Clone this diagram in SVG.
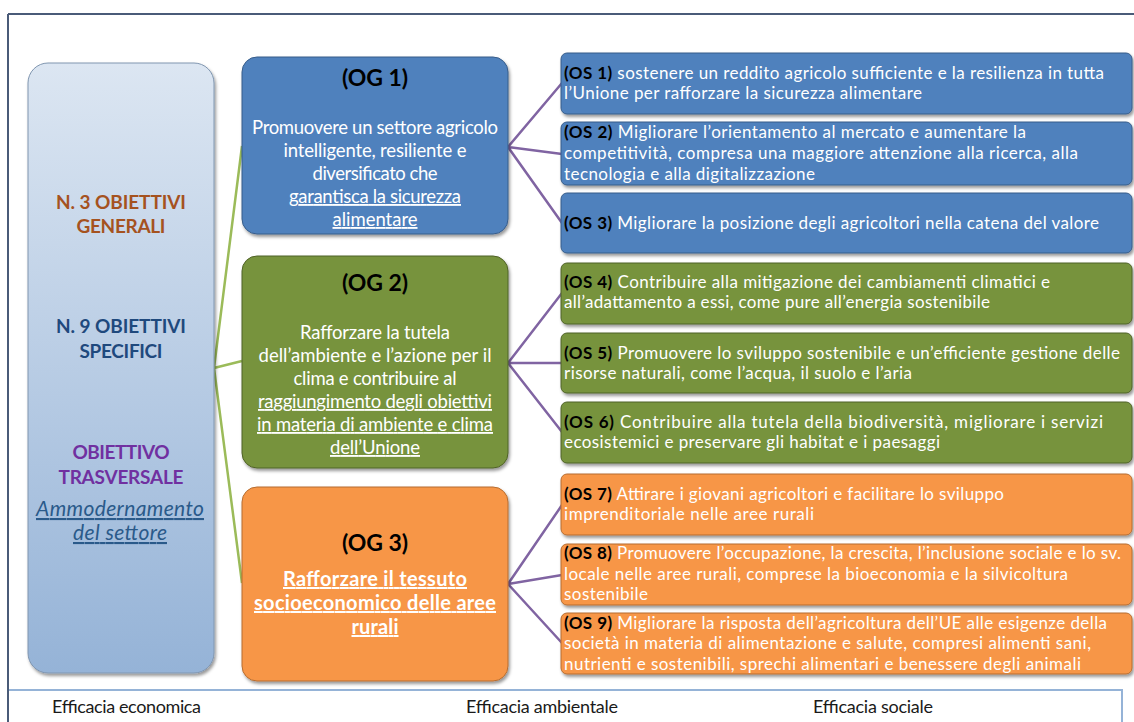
<svg xmlns="http://www.w3.org/2000/svg" width="1134" height="722" viewBox="0 0 1134 722">
<style>
text{font-family:Lato,"Liberation Sans",sans-serif}
.os{font-size:17px;fill:#ffffff}
.lab{fill:#000000;font-weight:bold}
.ogt{font-size:23px;font-weight:bold;fill:#000000}
.ogb{font-size:18.5px;fill:#ffffff}
.u{text-decoration:underline}
.ogb3{font-size:20px;font-weight:bold;fill:#ffffff;text-decoration:underline}
.left{font-size:19px;font-weight:bold}
.foot{font-size:18px;fill:#1a1a1a}
.blue{fill:#4f81bd;stroke:#385d8a;stroke-width:1}
.green{fill:#77933c;stroke:#4f6228;stroke-width:1}
.orange{fill:#f79646;stroke:#b66d31;stroke-width:1}
.gl{stroke:#9bbb59;stroke-width:2.5;fill:none}
.pl{stroke:#8064a2;stroke-width:2.5;fill:none}
</style>
<defs>
<linearGradient id="lg" x1="0" y1="0" x2="0" y2="1">
<stop offset="0" stop-color="#dce6f2"/>
<stop offset="1" stop-color="#95b3d7"/>
</linearGradient>
<filter id="sh" x="-10%" y="-10%" width="120%" height="130%">
<feDropShadow dx="1.5" dy="2.5" stdDeviation="1.8" flood-color="#000" flood-opacity="0.4"/>
</filter>
</defs>
<rect x="0" y="0" width="1134" height="722" fill="#ffffff"/>
<g id="frame">
<line x1="8" y1="14" x2="1134" y2="14" stroke="#4a5b78" stroke-width="2"/>
<rect x="8" y="690" width="1114" height="40" fill="#ffffff" stroke="#95b3d7" stroke-width="2"/>
<line x1="8" y1="14" x2="8" y2="722" stroke="#4a5b78" stroke-width="2"/>
</g>
<g id="connectors">
<path class="gl" d="M214,368 L242,146 M214,368 L242,361 M214,368 L242,583"/>
<path class="pl" d="M508,147 L562,83 M508,147 L562,154 M508,147 L562,223"/>
<path class="pl" d="M508,363 L562,293 M508,363 L562,363 M508,363 L562,432"/>
<path class="pl" d="M508,584 L562,505 M508,584 L562,575 M508,584 L562,643"/>
</g>
<g id="left-box">
<rect x="28" y="63" width="186" height="610" rx="20" fill="url(#lg)" stroke="#8096b0" stroke-width="1" filter="url(#sh)"/>
<text class="left" x="121" y="209" text-anchor="middle" fill="#a5521f" textLength="130" lengthAdjust="spacing">N. 3 OBIETTIVI</text>
<text class="left" x="121" y="233" text-anchor="middle" fill="#a5521f" textLength="89" lengthAdjust="spacing">GENERALI</text>
<text class="left" x="121" y="333" text-anchor="middle" fill="#1f497d" textLength="130" lengthAdjust="spacing">N. 9 OBIETTIVI</text>
<text class="left" x="121" y="358" text-anchor="middle" fill="#1f497d" textLength="83" lengthAdjust="spacing">SPECIFICI</text>
<text class="left" x="121" y="459" text-anchor="middle" fill="#7030a0" textLength="97" lengthAdjust="spacing">OBIETTIVO</text>
<text class="left" x="121" y="484" text-anchor="middle" fill="#7030a0" textLength="125" lengthAdjust="spacing">TRASVERSALE</text>
<text x="120" y="516" text-anchor="middle" fill="#2a5a8a" font-size="21" font-style="italic" text-decoration="underline" textLength="168" lengthAdjust="spacing">Ammodernamento</text>
<text x="120" y="540" text-anchor="middle" fill="#2a5a8a" font-size="21" font-style="italic" text-decoration="underline" textLength="94" lengthAdjust="spacing">del settore</text>
</g>
<g id="og1">
<rect class="blue" x="242" y="57" width="266" height="177" rx="15" filter="url(#sh)"/>
<text class="ogt" x="375" y="86" text-anchor="middle" textLength="66" lengthAdjust="spacing">(OG 1)</text>
<text class="ogb" x="375" y="134" text-anchor="middle" textLength="246" lengthAdjust="spacing">Promuovere un settore agricolo</text>
<text class="ogb" x="375" y="157" text-anchor="middle" textLength="183" lengthAdjust="spacing">intelligente, resiliente e</text>
<text class="ogb" x="375" y="180" text-anchor="middle" textLength="125" lengthAdjust="spacing">diversificato che</text>
<text class="ogb u" x="375" y="203" text-anchor="middle" textLength="172" lengthAdjust="spacing">garantisca la sicurezza</text>
<text class="ogb u" x="375" y="226" text-anchor="middle" textLength="85" lengthAdjust="spacing">alimentare</text>
</g>
<g id="og2">
<rect class="green" x="242" y="256" width="266" height="212" rx="15" filter="url(#sh)"/>
<text class="ogt" x="375" y="291" text-anchor="middle" textLength="66" lengthAdjust="spacing">(OG 2)</text>
<text class="ogb" x="375" y="339" text-anchor="middle" textLength="150" lengthAdjust="spacing">Rafforzare la tutela</text>
<text class="ogb" x="375" y="362" text-anchor="middle" textLength="233" lengthAdjust="spacing">dell’ambiente e l’azione per il</text>
<text class="ogb" x="375" y="385" text-anchor="middle" textLength="163" lengthAdjust="spacing">clima e contribuire al</text>
<text class="ogb u" x="375" y="408" text-anchor="middle" textLength="234" lengthAdjust="spacing">raggiungimento degli obiettivi</text>
<text class="ogb u" x="375" y="431" text-anchor="middle" textLength="236" lengthAdjust="spacing">in materia di ambiente e clima</text>
<text class="ogb u" x="375" y="454" text-anchor="middle" textLength="90" lengthAdjust="spacing">dell’Unione</text>
</g>
<g id="og3">
<rect class="orange" x="242" y="487" width="266" height="194" rx="15" filter="url(#sh)"/>
<text class="ogt" x="375" y="551" text-anchor="middle" textLength="66" lengthAdjust="spacing">(OG 3)</text>
<text class="ogb3" x="375" y="586" text-anchor="middle" textLength="184" lengthAdjust="spacing">Rafforzare il tessuto</text>
<text class="ogb3" x="375" y="610" text-anchor="middle" textLength="242" lengthAdjust="spacing">socioeconomico delle aree</text>
<text class="ogb3" x="375" y="634" text-anchor="middle" textLength="47" lengthAdjust="spacing">rurali</text>
</g>
<g id="os1">
<rect class="blue" x="561" y="53" width="571" height="61" rx="6" filter="url(#sh)"/>
<text class="os" x="564" y="79" textLength="540" lengthAdjust="spacing"><tspan class="lab">(OS 1)</tspan> sostenere un reddito agricolo sufficiente e la resilienza in tutta</text>
<text class="os" x="564" y="99" textLength="358" lengthAdjust="spacing">l’Unione  per rafforzare la sicurezza alimentare</text>
</g>
<g id="os2">
<rect class="blue" x="561" y="122" width="571" height="63" rx="6" filter="url(#sh)"/>
<text class="os" x="564" y="138" textLength="462" lengthAdjust="spacing"><tspan class="lab">(OS 2)</tspan> Migliorare l’orientamento al mercato e aumentare la</text>
<text class="os" x="564" y="159" textLength="514" lengthAdjust="spacing">competitività, compresa una maggiore attenzione alla ricerca, alla</text>
<text class="os" x="564" y="180" textLength="251" lengthAdjust="spacing">tecnologia e alla digitalizzazione</text>
</g>
<g id="os3">
<rect class="blue" x="561" y="193" width="571" height="60" rx="6" filter="url(#sh)"/>
<text class="os" x="564" y="229" textLength="535" lengthAdjust="spacing"><tspan class="lab">(OS 3)</tspan> Migliorare la posizione degli agricoltori nella catena del valore</text>
</g>
<g id="os4">
<rect class="green" x="561" y="263" width="571" height="61" rx="6" filter="url(#sh)"/>
<text class="os" x="564" y="288" textLength="486" lengthAdjust="spacing"><tspan class="lab">(OS 4)</tspan> Contribuire alla mitigazione dei cambiamenti climatici e</text>
<text class="os" x="564" y="308" textLength="426" lengthAdjust="spacing">all’adattamento a essi, come pure all’energia sostenibile</text>
</g>
<g id="os5">
<rect class="green" x="561" y="333" width="571" height="60" rx="6" filter="url(#sh)"/>
<text class="os" x="564" y="359" textLength="556" lengthAdjust="spacing"><tspan class="lab">(OS 5)</tspan> Promuovere lo sviluppo sostenibile e un’efficiente gestione delle</text>
<text class="os" x="564" y="379" textLength="348" lengthAdjust="spacing">risorse naturali, come l’acqua,  il suolo e l’aria</text>
</g>
<g id="os6">
<rect class="green" x="561" y="402" width="571" height="61" rx="6" filter="url(#sh)"/>
<text class="os" x="564" y="428" textLength="539" lengthAdjust="spacing"><tspan class="lab">(OS 6)</tspan> Contribuire alla tutela della biodiversità, migliorare i servizi</text>
<text class="os" x="564" y="448" textLength="376" lengthAdjust="spacing">ecosistemici e preservare gli habitat e i paesaggi</text>
</g>
<g id="os7">
<rect class="orange" x="561" y="474" width="571" height="61" rx="6" filter="url(#sh)"/>
<text class="os" x="564" y="500" textLength="440" lengthAdjust="spacing"><tspan class="lab">(OS 7)</tspan> Attirare i giovani agricoltori e facilitare lo sviluppo</text>
<text class="os" x="564" y="520" textLength="250" lengthAdjust="spacing">imprenditoriale nelle aree rurali</text>
</g>
<g id="os8">
<rect class="orange" x="561" y="544" width="571" height="61" rx="6" filter="url(#sh)"/>
<text class="os" x="564" y="559" textLength="557" lengthAdjust="spacing"><tspan class="lab">(OS 8)</tspan> Promuovere l’occupazione,  la crescita, l’inclusione sociale e lo sv.</text>
<text class="os" x="564" y="580" textLength="504" lengthAdjust="spacing">locale nelle aree rurali, comprese la bioeconomia  e la silvicoltura</text>
<text class="os" x="564" y="600" textLength="84" lengthAdjust="spacing">sostenibile</text>
</g>
<g id="os9">
<rect class="orange" x="561" y="613" width="571" height="61" rx="6" filter="url(#sh)"/>
<text class="os" x="564" y="629" textLength="543" lengthAdjust="spacing"><tspan class="lab">(OS 9)</tspan> Migliorare la risposta dell’agricoltura  dell’UE alle esigenze della</text>
<text class="os" x="564" y="649" textLength="527" lengthAdjust="spacing">società in materia di alimentazione e salute, compresi alimenti sani,</text>
<text class="os" x="564" y="670" textLength="517" lengthAdjust="spacing">nutrienti e sostenibili, sprechi alimentari e benessere degli animali</text>
</g>
<g id="footer">
<text class="foot" x="52" y="713" textLength="149" lengthAdjust="spacing">Efficacia economica</text>
<text class="foot" x="466" y="713" textLength="152" lengthAdjust="spacing">Efficacia ambientale</text>
<text class="foot" x="813" y="713" textLength="120" lengthAdjust="spacing">Efficacia sociale</text>
</g>
</svg>
